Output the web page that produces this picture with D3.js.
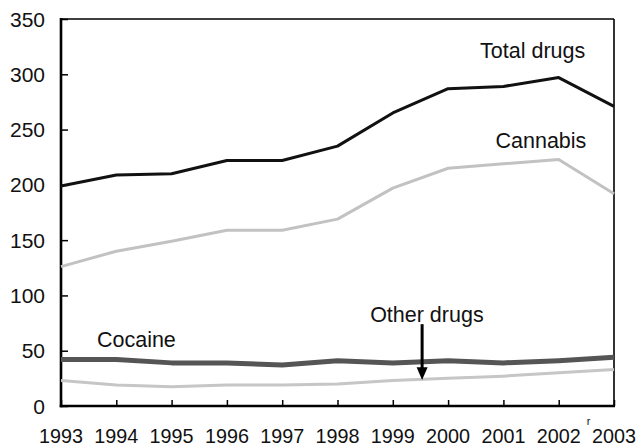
<!DOCTYPE html>
<html>
<head>
    <title>Drug seizures 1993-2003</title>
    <script src="https://d3js.org/d3.v7.min.js"></script>
    <style>
        body { margin: 0; background: #fff; }
        text { font-family: "Liberation Sans", Arial, Helvetica, sans-serif; fill: #111; }
        .tick-label { font-size: 21px; }
        .series-label { font-size: 21.5px; }
        .line { fill: none; stroke-linejoin: round; stroke-linecap: butt; }
    </style>
</head>
<body>
<script>
    var years = [1993, 1994, 1995, 1996, 1997, 1998, 1999, 2000, 2001, 2002, 2003];
    var totalDrugs = [199, 209, 210, 222, 222, 235, 265, 287, 289, 297, 271];
    var cannabis = [126, 140, 149, 159, 159, 169, 197, 215, 219, 223, 192];
    var cocaine = [42, 42, 39, 39, 37, 41, 39, 41, 39, 41, 44];
    var otherDrugs = [23, 19, 17.5, 19, 19, 20, 23, 25, 27, 30, 33];
    var yTicks = [0, 50, 100, 150, 200, 250, 300, 350];

    var width = 638, height = 447;
    var margin = {top: 19, right: 24, bottom: 41, left: 61};

    var svg = d3.select("body").append("svg")
        .attr("width", width)
        .attr("height", height);

    var x = d3.scaleLinear().domain([1993, 2003]).range([margin.left, width - margin.right]);
    var y = d3.scaleLinear().domain([0, 350]).range([height - margin.bottom, margin.top]);

    // frame: thin top/right, heavier left/bottom
    svg.append("line").attr("x1", x(1993)).attr("x2", x(2003)).attr("y1", y(350)).attr("y2", y(350))
        .attr("stroke", "#000").attr("stroke-width", 1.6);
    svg.append("line").attr("x1", x(2003)).attr("x2", x(2003)).attr("y1", y(350)).attr("y2", y(0))
        .attr("stroke", "#000").attr("stroke-width", 1.6);

    var yAxis = svg.append("g")
        .attr("transform", "translate(" + margin.left + ",0)")
        .call(d3.axisRight(y).tickValues(yTicks).tickSize(7).tickFormat(""));
    yAxis.select(".domain").remove();
    yAxis.selectAll(".tick line").attr("stroke-width", 1.5);

    var xAxis = svg.append("g")
        .attr("transform", "translate(0," + y(0) + ")")
        .call(d3.axisTop(x).tickValues(years).tickSize(6).tickFormat(""));
    xAxis.select(".domain").remove();
    xAxis.selectAll(".tick line").attr("stroke-width", 1.5);

    svg.append("line").attr("x1", x(1993)).attr("x2", x(1993)).attr("y1", y(350) - 1).attr("y2", y(0) + 1.3)
        .attr("stroke", "#000").attr("stroke-width", 2.6);
    svg.append("line").attr("x1", x(1993) - 1.3).attr("x2", x(2003) + 1).attr("y1", y(0)).attr("y2", y(0))
        .attr("stroke", "#000").attr("stroke-width", 2.6);

    svg.selectAll(".ylab").data(yTicks).enter().append("text")
        .attr("class", "tick-label")
        .attr("x", 45)
        .attr("y", function(d) { return y(d) + 7.5; })
        .attr("text-anchor", "end")
        .text(function(d) { return d; });

    svg.selectAll(".xlab").data(years).enter().append("text")
        .attr("class", "tick-label")
        .attr("x", function(d) { return x(d); })
        .attr("y", 443)
        .attr("text-anchor", "middle")
        .attr("textLength", 44)
        .attr("lengthAdjust", "spacingAndGlyphs")
        .text(function(d) { return d; });

    svg.append("text")
        .attr("x", x(2002) + 28)
        .attr("y", 425)
        .attr("font-size", 11)
        .text("r");

    var line = d3.line()
        .x(function(d, i) { return x(years[i]); })
        .y(function(d) { return y(d); });

    var series = [
        {values: otherDrugs, color: "#c6c6c6", width: 3},
        {values: cocaine, color: "#555555", width: 5},
        {values: cannabis, color: "#c2c2c2", width: 3},
        {values: totalDrugs, color: "#111111", width: 3}
    ];

    svg.selectAll(".line").data(series).enter().append("path")
        .attr("class", "line")
        .attr("d", function(d) { return line(d.values); })
        .attr("stroke", function(d) { return d.color; })
        .attr("stroke-width", function(d) { return d.width; });

    svg.append("text").attr("class", "series-label")
        .attr("x", x(2002.48)).attr("y", y(314.6)).attr("text-anchor", "end").text("Total drugs");
    svg.append("text").attr("class", "series-label")
        .attr("x", x(2002.5)).attr("y", y(233)).attr("text-anchor", "end").text("Cannabis");
    svg.append("text").attr("class", "series-label")
        .attr("x", x(1993.65)).attr("y", y(53)).text("Cocaine");
    svg.append("text").attr("class", "series-label")
        .attr("x", x(1998.59)).attr("y", y(76)).text("Other drugs");

    // arrow pointing at other drugs line
    var ax = x(1999.53);
    svg.append("line")
        .attr("x1", ax).attr("x2", ax)
        .attr("y1", y(74)).attr("y2", y(33))
        .attr("stroke", "#000").attr("stroke-width", 3);
    svg.append("path")
        .attr("d", "M" + (ax - 5.5) + "," + y(35) + "L" + (ax + 5.5) + "," + y(35) + "L" + ax + "," + y(23.5) + "Z")
        .attr("fill", "#000");
</script>
</body>
</html>
